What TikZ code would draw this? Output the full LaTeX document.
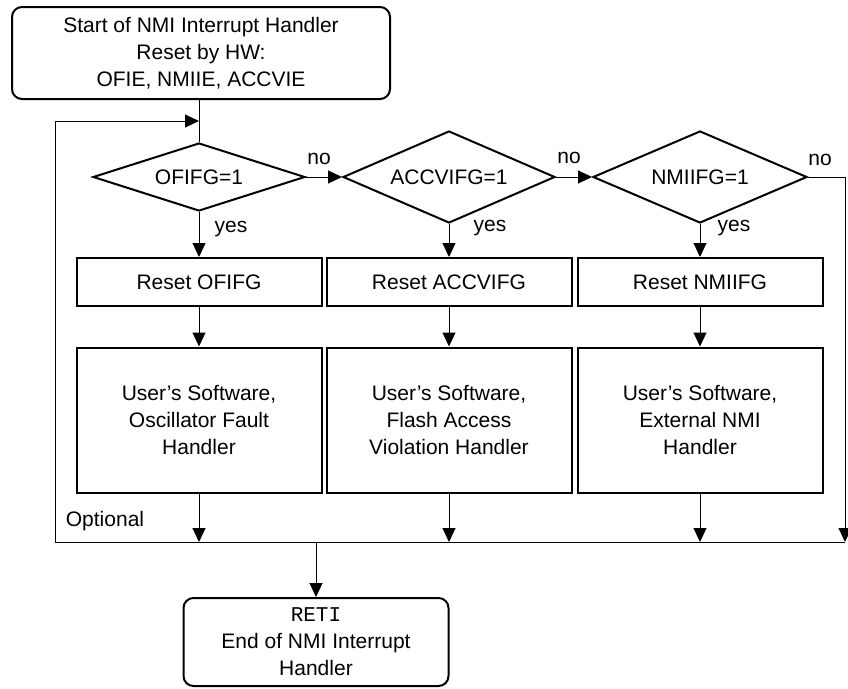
\documentclass[tikz,border=0pt]{standalone}
\usepackage{fontspec}
\setmainfont{Liberation Sans}
\newfontfamily\retifont{Liberation Mono}
\usetikzlibrary{arrows.meta,calc,shapes.geometric}
\definecolor{LineClr}{rgb}{0,0,0}

\begin{document}
\begin{tikzpicture}[x=1pt,y=-1pt,font=\fontsize{21}{27}\selectfont,
  box/.style={draw=LineClr,line width=2pt,minimum width=245pt,align=center,inner sep=0pt},
  endbox/.style={box,rounded corners=10pt},
  decision/.style={draw=LineClr,line width=2pt,diamond,aspect=3,inner sep=0pt,minimum width=212pt},
  wire/.style={draw=LineClr,line width=1pt},
  flow/.style={wire,-{Triangle[length=14pt,width=13pt]}}]

\useasboundingbox (0,0) rectangle (848,688);

\node[endbox,minimum width=378pt,minimum height=92pt] (start) at (201,53) {Start of NMI Interrupt Handler\\Reset by HW:\\OFIE, NMIIE, ACCVIE};

\node[decision,minimum height=68pt] (ofifg) at (199,177) {OFIFG=1};
\node[decision,minimum height=92pt] (accvifg) at (449,177) {ACCVIFG=1};
\node[decision,minimum height=92pt,minimum width=214pt] (nmiifg) at (700,177) {NMIIFG=1};

\node[box,minimum height=48pt] (rstA) at (199,282) {Reset OFIFG};
\node[box,minimum height=48pt] (rstB) at (449,282) {Reset ACCVIFG};
\node[box,minimum height=48pt] (rstC) at (700,282) {Reset NMIIFG};

\node[box,minimum height=145pt] (userA) at (199,420) {User’s Software,\\Oscillator Fault\\Handler};
\node[box,minimum height=145pt] (userB) at (449,420) {User’s Software,\\Flash Access\\Violation Handler};
\node[box,minimum height=145pt] (userC) at (700,420) {User’s Software,\\External NMI\\Handler};

\node[endbox,minimum width=265pt,minimum height=88pt] (stop) at (316,642) {{\retifont RETI}\\End of NMI Interrupt\\Handler};

\coordinate (busL) at (199,542);
\coordinate (busR) at (845,542);
\coordinate (loopB) at (55,542);
\coordinate (loopT) at (55,121);
\coordinate (join) at (199,121);
\coordinate (noR) at (845,177);

\draw[wire] (ofifg.north |- start.south) -- (ofifg.north);
\draw[flow] (busL) -- (loopB) -- (loopT) -- (join);

\draw[flow] (ofifg.east) -- (accvifg.west);
\draw[flow] (accvifg.east) -- (nmiifg.west);
\draw[flow] (nmiifg.east) -- (noR) -- (busR);

\draw[flow] (ofifg.south) -- (rstA.north);
\draw[flow] (accvifg.south) -- (rstB.north);
\draw[flow] (nmiifg.south) -- (rstC.north);

\draw[flow] (rstA.south) -- (userA.north);
\draw[flow] (rstB.south) -- (userB.north);
\draw[flow] (rstC.south) -- (userC.north);

\draw[flow] (userA.south) -- (userA.south |- busL);
\draw[flow] (userB.south) -- (userB.south |- busL);
\draw[flow] (userC.south) -- (userC.south |- busL);

\draw[wire] (busL) -- (busR);
\draw[flow] (stop.north |- busL) -- (stop.north);

\node (noA) at (319,159) {no};
\node (noB) at (569,158) {no};
\node (noC) at (820,160) {no};
\node (yesA) at (231,229) {yes};
\node (yesB) at (490,228) {yes};
\node (yesC) at (734,228) {yes};
\node (opt) at (105,521) {Optional};

\end{tikzpicture}
\end{document}
